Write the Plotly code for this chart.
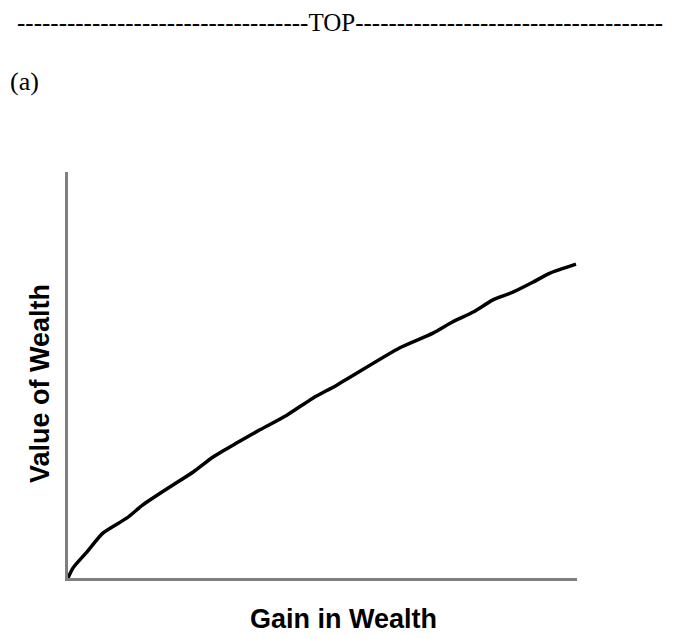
import plotly.graph_objects as go

# curve (axis units 0..100)
gain = [0, 1.0, 3.7, 6.9, 11.6, 14.7, 20.0, 24.6, 28.5, 33.2, 37.7, 43.0, 48.1,
        52.8, 65.2, 71.7, 75.6, 79.6, 83.5, 87.4, 91.4, 94.7, 99.8]
value = [0, 2.5, 6.4, 11.1, 14.8, 18.0, 22.4, 26.1, 29.8, 33.3, 36.5, 40.1, 44.3,
         47.5, 56.7, 60.3, 63.1, 65.5, 68.5, 70.4, 72.9, 75.1, 77.3]

header = "-" * 35 + "TOP" + "-" * 37
panel_label = "(a)"
x_title = "Gain in Wealth"
y_title = "Value of Wealth"

fig = go.Figure()
fig.add_trace(go.Scatter(x=gain, y=value, mode="lines",
                         line=dict(color="black", width=3.5, shape="spline", smoothing=0.6),
                         hoverinfo="skip", showlegend=False))

axis_style = dict(showline=True, linecolor="#808080", linewidth=2.5, showgrid=False,
                  zeroline=False, showticklabels=False, ticks="", range=[0, 100],
                  fixedrange=True)
fig.update_xaxes(**axis_style)
fig.update_yaxes(**axis_style)

# the page body adds an 8px margin, so the figure is 8px smaller each way
fig.update_layout(
    width=678, height=630,
    margin=dict(l=60, r=109, t=164, b=60),
    paper_bgcolor="white", plot_bgcolor="white",
    annotations=[
        dict(text=header, xref="paper", yref="paper", x=(340 - 68) / 509, y=1 + 164 / 406,
             showarrow=False, xanchor="center", yanchor="top", borderpad=0,
             font=dict(family="Liberation Serif", size=25, color="black")),
        dict(text=panel_label, xref="paper", yref="paper", x=(8 - 68) / 509, y=1 + (172 - 82) / 406,
             showarrow=False, xanchor="left", yanchor="middle",
             font=dict(family="Liberation Serif", size=26, color="black")),
        dict(text="<b>" + x_title + "</b>", xref="paper", yref="paper", x=(343 - 68) / 509,
             y=-(619 - 578) / 406, showarrow=False, xanchor="center", yanchor="middle",
             font=dict(family="Liberation Sans", size=27, color="black")),
        dict(text="<b>" + y_title + "</b>", xref="paper", yref="paper", x=(40 - 68) / 509,
             y=(578 - 384) / 406, showarrow=False, xanchor="center", yanchor="middle",
             textangle=-90, font=dict(family="Liberation Sans", size=27, color="black")),
    ],
)

fig.write_html("out.html")
